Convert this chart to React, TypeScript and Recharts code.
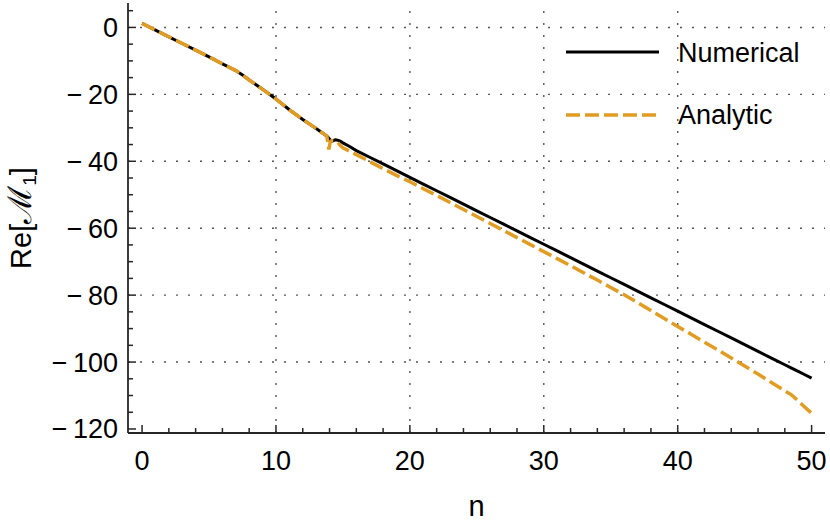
import React from 'react';
import { LineChart, Line, XAxis, YAxis, ReferenceLine } from 'recharts';

const nValues = [0, 1, 2, 3, 4, 5, 6, 7, 7.5, 8, 9, 10, 11, 12, 13, 13.5, 13.8, 13.95, 14.05, 14.15, 14.3, 14.45, 14.6, 14.8, 15, 15.5, 16, 17, 18, 19, 20, 21, 22, 23, 24, 25, 26, 27, 28, 29, 30, 31, 32, 33, 34, 35, 36, 37, 38, 39, 40, 41, 42, 43, 44, 45, 46, 47, 48, 48.5, 49, 49.5, 50];
const numerical = [1.2, -0.8, -2.8, -4.8, -6.8, -8.8, -10.9, -12.9, -14.2, -15.7, -18.5, -21.4, -24.6, -27.5, -30.2, -31.6, -32.5, -33.1, -33.6, -34.0, -33.8, -33.6, -33.7, -34.0, -34.5, -35.6, -36.8, -38.8, -40.8, -42.8, -44.8, -46.8, -48.8, -50.8, -52.8, -54.8, -56.8, -58.8, -60.8, -62.8, -64.8, -66.8, -68.8, -70.8, -72.8, -74.8, -76.8, -78.8, -80.8, -82.8, -84.8, -86.8, -88.8, -90.8, -92.8, -94.8, -96.8, -98.8, -100.8, -101.8, -102.8, -103.8, -104.8];
const analytic = [1.2, -0.8, -2.8, -4.8, -6.8, -8.8, -10.9, -12.9, -14.2, -15.7, -18.5, -21.4, -24.6, -27.5, -30.2, -31.6, -32.5, -36.5, -34.2, -33.9, -33.9, -34.0, -34.3, -35.2, -36.0, -37.0, -38.0, -40.1, -42.2, -44.2, -46.1, -48.2, -50.2, -52.3, -54.4, -56.5, -58.6, -60.7, -62.8, -64.9, -67.0, -69.1, -71.2, -73.4, -75.5, -77.7, -79.9, -82.2, -84.6, -87.0, -89.4, -91.7, -94.1, -96.4, -98.8, -101.2, -103.6, -106.1, -108.6, -109.8, -111.6, -113.5, -115.3];

const seriesNames = ['Numerical', 'Analytic'];
const xTicks = [0, 2, 4, 6, 8, 10, 12, 14, 16, 18, 20, 22, 24, 26, 28, 30, 32, 34, 36, 38, 40, 42, 44, 46, 48, 50];
const yTicks = [5, 0, -5, -10, -15, -20, -25, -30, -35, -40, -45, -50, -55, -60, -65, -70, -75, -80, -85, -90, -95, -100, -105, -110, -115, -120];
const gridX = [10, 20, 30, 40];
const gridY = [0, -20, -40, -60, -80, -100];

const data = nValues.map((n, i) => ({ n, numerical: numerical[i], analytic: analytic[i] }));

const ORANGE = '#E19C24';
const FRAME = '#262626';
const FONT = 'Liberation Sans, Arial, sans-serif';

const fmt = (v: number) => (v < 0 ? '\u2212\u2009' + Math.abs(v) : String(v));

const BottomTick = (props: any) => {
  const { x, y, payload } = props;
  const v = payload.value;
  const major = v % 10 === 0;
  return (
    <g>
      <line x1={x} x2={x} y1={y} y2={y - (major ? 8 : 5)} stroke={FRAME} strokeWidth={1.5} />
      {major && (
        <text x={x} y={y + 37} textAnchor="middle" fontSize={27} fontFamily={FONT} fill="#000">
          {fmt(v)}
        </text>
      )}
    </g>
  );
};

const TopTick = (props: any) => {
  const { x, y, payload } = props;
  const major = payload.value % 10 === 0;
  return <line x1={x} x2={x} y1={y} y2={y + (major ? 8 : 5)} stroke={FRAME} strokeWidth={1.5} />;
};

const LeftTick = (props: any) => {
  const { x, y, payload } = props;
  const v = payload.value;
  const major = v % 20 === 0;
  return (
    <g>
      <line x1={x} x2={x + (major ? 8 : 5)} y1={y} y2={y} stroke={FRAME} strokeWidth={1.5} />
      {major && (
        <text x={x - 10} y={y + 9.5} textAnchor="end" fontSize={27} fontFamily={FONT} fill="#000">
          {fmt(v)}
        </text>
      )}
    </g>
  );
};

const RightTick = (props: any) => {
  const { x, y, payload } = props;
  const major = payload.value % 20 === 0;
  return <line x1={x} x2={x - (major ? 8 : 5)} y1={y} y2={y} stroke={FRAME} strokeWidth={1.5} />;
};

const YLabel = (props: any) => {
  const vb = props.viewBox || { x: 0, y: 3, width: 128, height: 430 };
  const cx = 31;
  const cy = vb.y + vb.height / 2;
  return (
    <text
      x={cx}
      y={cy}
      transform={`rotate(-90 ${cx} ${cy})`}
      textAnchor="middle"
      fontSize={29}
      fontFamily={FONT}
      fill="#000"
    >
      Re[<tspan fontSize={33}>ℳ</tspan>
      <tspan fontSize={19} dy={5}>1</tspan>
      <tspan dy={-5}>]</tspan>
    </text>
  );
};

const XLabel = (props: any) => {
  const vb = props.viewBox || { x: 128, y: 433, width: 697, height: 88 };
  return (
    <text x={vb.x + vb.width / 2} y={516} textAnchor="middle" fontSize={29} fontFamily={FONT} fill="#000">
      n
    </text>
  );
};

export default function App() {
  return (
    <div style={{ position: 'absolute', left: 0, top: 0, width: 830, height: 521, background: '#fff' }}>
      <LineChart width={830} height={521} data={data} margin={{ top: 3, right: 5, bottom: 0, left: 0 }}>
        <XAxis
          xAxisId="b"
          dataKey="n"
          type="number"
          domain={[-1.05, 51]}
          ticks={xTicks}
          interval={0}
          allowDataOverflow
          height={88}
          tickSize={0}
          tickMargin={0}
          tickLine={false}
          stroke={FRAME}
          strokeWidth={1.8}
          tick={<BottomTick />}
          label={<XLabel />}
        />
        <XAxis
          xAxisId="t"
          orientation="top"
          dataKey="n"
          type="number"
          domain={[-1.05, 51]}
          ticks={xTicks}
          interval={0}
          allowDataOverflow
          height={0}
          tickSize={0}
          tickMargin={0}
          tickLine={false}
          stroke={FRAME}
          strokeWidth={1.8}
          tick={<TopTick />}
        />
        <YAxis
          yAxisId="l"
          type="number"
          domain={[-121.2, 7.3]}
          ticks={yTicks}
          interval={0}
          allowDataOverflow
          width={128}
          tickSize={0}
          tickMargin={0}
          tickLine={false}
          stroke={FRAME}
          strokeWidth={1.8}
          tick={<LeftTick />}
          label={<YLabel />}
        />
        <YAxis
          yAxisId="r"
          orientation="right"
          type="number"
          domain={[-121.2, 7.3]}
          ticks={yTicks}
          interval={0}
          allowDataOverflow
          width={0}
          tickSize={0}
          tickMargin={0}
          tickLine={false}
          stroke={FRAME}
          strokeWidth={1.8}
          tick={<RightTick />}
        />
        {gridX.map((v) => (
          <ReferenceLine key={'gx' + v} x={v} xAxisId="b" yAxisId="l" stroke="#555" strokeWidth={1.4} strokeDasharray="2 10" />
        ))}
        {gridY.map((v) => (
          <ReferenceLine key={'gy' + v} y={v} xAxisId="b" yAxisId="l" stroke="#555" strokeWidth={1.4} strokeDasharray="2 10" />
        ))}
        <Line
          xAxisId="b"
          yAxisId="l"
          type="linear"
          dataKey="numerical"
          name={seriesNames[0]}
          stroke="#000"
          strokeWidth={3}
          dot={false}
          isAnimationActive={false}
        />
        <Line
          xAxisId="b"
          yAxisId="l"
          type="linear"
          dataKey="analytic"
          name={seriesNames[1]}
          stroke={ORANGE}
          strokeWidth={3.5}
          strokeDasharray="14 5"
          dot={false}
          isAnimationActive={false}
        />
      </LineChart>
      <svg width={830} height={521} style={{ position: 'absolute', left: 0, top: 0, pointerEvents: 'none' }}>
        <line x1={566} x2={659} y1={52} y2={52} stroke="#000" strokeWidth={3} />
        <text x={678} y={62} fontSize={27} fontFamily={FONT} fill="#000">{seriesNames[0]}</text>
        <line x1={566} x2={659} y1={115} y2={115} stroke={ORANGE} strokeWidth={3.5} strokeDasharray="14 5" />
        <text x={678} y={124} fontSize={27} fontFamily={FONT} fill="#000">{seriesNames[1]}</text>
      </svg>
    </div>
  );
}
